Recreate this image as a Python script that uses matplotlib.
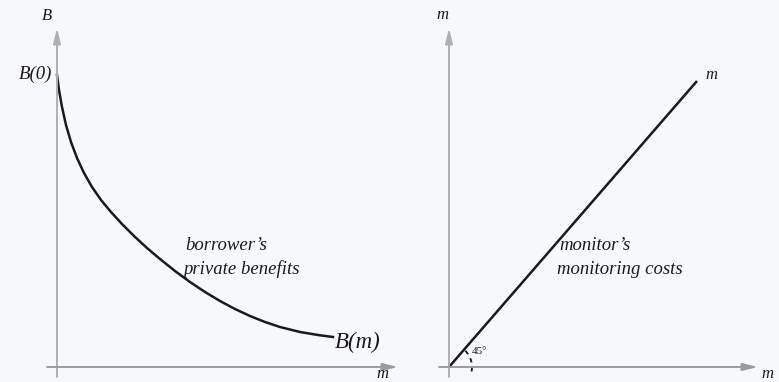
import numpy as np
import matplotlib.pyplot as plt
from matplotlib.patches import Arc

# curve B(m) (pixel positions, y grows downward)
curve_x = [57, 59, 62, 66, 71, 77, 84, 92, 101, 111, 122, 134, 147, 160, 175, 190,
           205, 220, 235, 250, 265, 280, 300, 318, 333]
curve_y = [75, 90, 107, 125, 142, 158, 173, 187, 200, 212, 224, 236, 248, 259, 271, 282,
           292, 301, 309, 316, 322, 327, 332, 335, 337]

# monitoring cost line (45 degrees in the model)
line_x = [449, 697]
line_y = [367, 81]

bg = "#f7f8fc"
axis_col = "#9a9a9a"
serif = ["Liberation Serif", "DejaVu Serif"]

fig = plt.figure(figsize=(7.79, 3.82), dpi=100, facecolor=bg)
ax = fig.add_axes([0, 0, 1, 1])
ax.set_facecolor(bg)
ax.set_xlim(0, 779)
ax.set_ylim(382, 0)
ax.axis("off")

arrow = dict(arrowstyle="-|>,head_length=0.9,head_width=0.22", color=axis_col,
             lw=1.4, shrinkA=0, shrinkB=0)

# left panel axes
ax.annotate("", xy=(57, 28), xytext=(57, 377), arrowprops=dict(arrow, color="#b0b0b4"))
ax.annotate("", xy=(398, 367), xytext=(47, 367), arrowprops=arrow)

# right panel axes
ax.annotate("", xy=(449, 28), xytext=(449, 377), arrowprops=dict(arrow, color="#b0b0b4"))
ax.annotate("", xy=(758, 367), xytext=(439, 367), arrowprops=arrow)

ax.plot(curve_x, curve_y, color="#1a1a1a", lw=1.8, solid_joinstyle="round")
ax.plot(line_x, line_y, color="#1a1a1a", lw=1.8, solid_capstyle="butt")

ax.add_patch(Arc((449, 367), 46, 46, theta1=-45, theta2=15, color="#1a1a1a",
                 lw=1.3, ls=(0, (2.5, 2.5))))

txt = dict(family=serif, style="italic", color="#1a1a1a")
ax.text(47, 16, "B", fontsize=12, ha="center", va="center", **txt)
ax.text(52, 74, "B(0)", fontsize=13.5, ha="right", va="center", **txt)
ax.text(335, 342, "B(m)", fontsize=16.5, ha="left", va="center", **txt)
ax.text(382, 374, "m", fontsize=12, ha="center", va="center", **txt)
ax.text(185, 245, "borrower’s", fontsize=13.5, ha="left", va="center", **txt)
ax.text(183, 269, "private benefits", fontsize=13.5, ha="left", va="center", **txt)

ax.text(442, 15, "m", fontsize=12, ha="center", va="center", **txt)
ax.text(705, 75, "m", fontsize=12, ha="left", va="center", **txt)
ax.text(767, 374, "m", fontsize=12, ha="center", va="center", **txt)
ax.text(559, 245, "monitor’s", fontsize=13.5, ha="left", va="center", **txt)
ax.text(557, 269, "monitoring costs", fontsize=13.5, ha="left", va="center", **txt)
ax.text(472, 352, "45°", fontsize=8, ha="left", va="center", family=serif,
        color="#1a1a1a")

fig.savefig("out.png", dpi=100, facecolor=bg)
